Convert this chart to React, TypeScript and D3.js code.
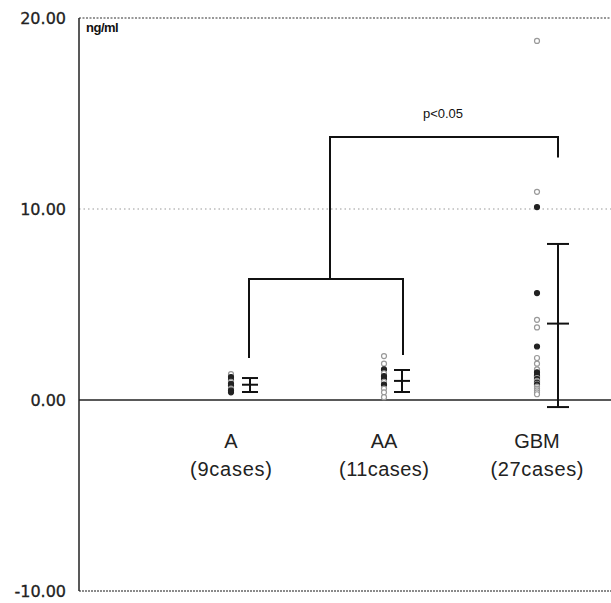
import * as d3 from 'd3';

// groups
const groups = ['A', 'AA', 'GBM'];
const groupCases = ['(9cases)', '(11cases)', '(27cases)'];

// individual values (ng/ml)
const valuesA = [1.35, 1.2, 1.05, 0.95, 0.85, 0.75, 0.6, 0.5, 0.4];
const valuesAA = [2.3, 1.9, 1.6, 1.4, 1.25, 1.1, 0.95, 0.8, 0.6, 0.4, 0.15];
const valuesGBM = [
  18.8, 10.9, 10.1, 5.6, 4.2, 3.8, 2.8, 2.2, 1.9, 1.6, 1.45, 1.3, 1.25, 1.2, 1.15,
  1.1, 1.05, 1.0, 0.95, 0.9, 0.85, 0.8, 0.7, 0.6, 0.5, 0.4, 0.3,
];
// which dots are drawn solid (1) or open (0)
const solidA = [0, 1, 1, 0, 1, 1, 0, 1, 1];
const solidAA = [0, 0, 1, 0, 1, 1, 0, 1, 0, 0, 0];
const solidGBM = [0, 0, 1, 1, 0, 0, 1, 0, 0, 0, 1, 1, 1, 1, 0, 1, 1, 0, 0, 1, 0, 1, 0, 0, 0, 0, 0];

// mean and mean ± SD
const means = [0.8, 1.0, 4.0];
const upper = [1.15, 1.57, 8.17];
const lower = [0.42, 0.42, -0.37];

const yTicks = [20, 10, 0, -10];

// significance brackets in data units
const bracketLow = { top: 6.33, leftEnd: 2.2, rightEnd: 2.35 };
const bracketHigh = { top: 13.77, leftEnd: 6.33, rightEnd: 12.7 };

export default function App() {
  const width = 611;
  const height = 603;
  const left = 79;

  const y = d3.scaleLinear().domain([-10, 20]).range([591, 18]);
  const xDots = d3.scalePoint<string>().domain(groups).range([231, 537]);
  const xBar = (g: string) => (xDots(g) ?? 0) + (g === 'GBM' ? 21 : g === 'AA' ? 18 : 19);
  const capW = (g: string) => (g === 'GBM' ? 11 : 8);

  const series = [
    { g: 'A', vals: valuesA, solid: solidA },
    { g: 'AA', vals: valuesAA, solid: solidAA },
    { g: 'GBM', vals: valuesGBM, solid: solidGBM },
  ];

  const font = 'Arial, "Liberation Sans", sans-serif';

  const lowL = xBar('A') - 1;
  const lowR = xBar('AA') + 1;
  const lowMid = (lowL + lowR) / 2 + 4;
  const highR = xBar('GBM');

  return (
    <svg
      width={width}
      height={height}
      style={{ position: 'absolute', left: 0, top: 0, background: '#fff' }}
    >
      {/* frame */}
      <line x1={left} x2={width} y1={y(20)} y2={y(20)} stroke="#777" strokeWidth={1.3} strokeDasharray="2,1.5" />
      <line x1={left} x2={width} y1={y(10)} y2={y(10)} stroke="#999" strokeWidth={1.2} strokeDasharray="1.5,3" />
      <line x1={left} x2={width} y1={y(-10)} y2={y(-10)} stroke="#666" strokeWidth={1.5} strokeDasharray="2,1" />
      <line x1={left} x2={width} y1={y(0)} y2={y(0)} stroke="#222" strokeWidth={1.6} />
      <line x1={left} x2={left} y1={y(20)} y2={y(-10)} stroke="#222" strokeWidth={1.5} />

      {/* y ticks */}
      {yTicks.map((t) => (
        <text
          key={t}
          x={66}
          y={y(t)}
          dy="0.36em"
          textAnchor="end"
          fontFamily='"DejaVu Sans", sans-serif'
          fontSize={16}
          fill="#222"
          stroke="#222"
          strokeWidth={0.3}
        >
          {t.toFixed(2)}
        </text>
      ))}
      <text x={86} y={32} fontFamily={font} fontSize={13} fontWeight={700} fill="#111" letterSpacing="-0.5">
        ng/ml
      </text>

      {/* dots */}
      {series.map(({ g, vals, solid }) =>
        vals.map((v, i) => (
          <circle
            key={`${g}-${i}`}
            cx={xDots(g)}
            cy={y(v)}
            r={2.5}
            fill={solid[i] ? '#222' : '#fff'}
            stroke={solid[i] ? '#222' : '#999'}
            strokeWidth={1.2}
          />
        ))
      )}

      {/* mean ± SD */}
      {groups.map((g, i) => {
        const x = xBar(g);
        const w = capW(g);
        return (
          <g key={g} stroke="#111" strokeWidth={2}>
            <line x1={x} x2={x} y1={y(upper[i])} y2={y(lower[i])} />
            <line x1={x - w} x2={x + w} y1={y(upper[i])} y2={y(upper[i])} />
            <line x1={x - w} x2={x + w} y1={y(means[i])} y2={y(means[i])} />
            <line x1={x - w} x2={x + w} y1={y(lower[i])} y2={y(lower[i])} />
          </g>
        );
      })}

      {/* brackets */}
      <path
        d={`M${lowL},${y(bracketLow.leftEnd)}V${y(bracketLow.top)}H${lowR}V${y(bracketLow.rightEnd)}`}
        fill="none"
        stroke="#111"
        strokeWidth={2}
      />
      <path
        d={`M${lowMid},${y(bracketHigh.leftEnd)}V${y(bracketHigh.top)}H${highR}V${y(bracketHigh.rightEnd)}`}
        fill="none"
        stroke="#111"
        strokeWidth={2}
      />
      <text x={443} y={118} textAnchor="middle" fontFamily={font} fontSize={13} fill="#111">
        p&lt;0.05
      </text>

      {/* category labels */}
      {groups.map((g, i) => (
        <g key={g} fontFamily={font} fontSize={20} fill="#222" textAnchor="middle">
          <text x={xDots(g)} y={448}>{g}</text>
          <text x={xDots(g)} y={476} textLength={g === 'A' ? 82 : g === 'AA' ? 90 : 93}>{groupCases[i]}</text>
        </g>
      ))}
    </svg>
  );
}
